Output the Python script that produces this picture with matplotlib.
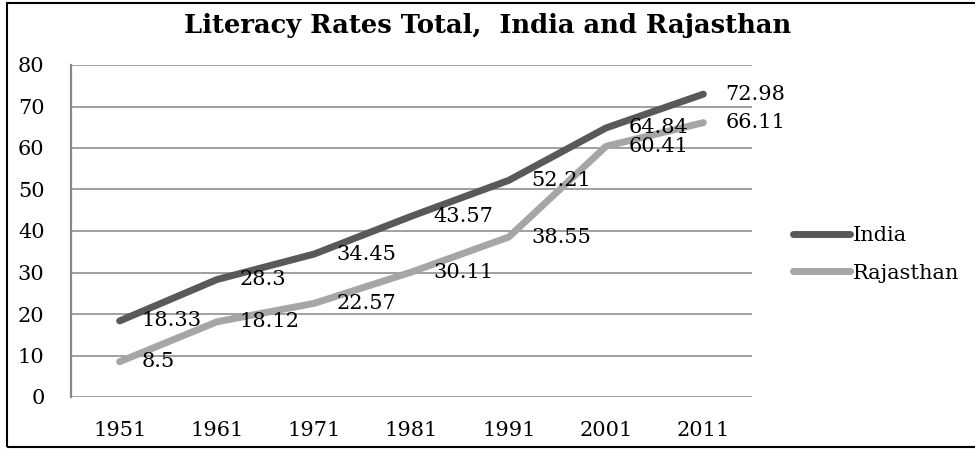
import matplotlib
matplotlib.use("Agg")
import matplotlib.pyplot as plt
from matplotlib.patches import Rectangle

# data
years = ["1951", "1961", "1971", "1981", "1991", "2001", "2011"]
india = [18.33, 28.3, 34.45, 43.57, 52.21, 64.84, 72.98]
rajasthan = [8.5, 18.12, 22.57, 30.11, 38.55, 60.41, 66.11]
y_ticks = [0, 10, 20, 30, 40, 50, 60, 70, 80]

plt.rcParams['font.family'] = ['DejaVu Serif']
fs = 15

fig = plt.figure(figsize=(9.75, 4.49), dpi=100)
ax = fig.add_axes([71/975, 1 - 397/449, 681/975, 332/449])

x = range(len(years))
ax.plot(x, india, color='#595959', lw=5, solid_capstyle='round',
        solid_joinstyle='round', label='India', zorder=3)
ax.plot(x, rajasthan, color='#a6a6a6', lw=5, solid_capstyle='round',
        solid_joinstyle='round', label='Rajasthan', zorder=3)

# data labels to the right of each point
for series in (india, rajasthan):
    for i, v in enumerate(series):
        ax.annotate(f"{v:g}", (i, v), xytext=(16, 0), textcoords='offset points',
                    ha='left', va='center', fontsize=fs, color='black', zorder=4)

ax.set_xlim(-0.5, len(years) - 0.5)
ax.set_ylim(0, 80)
ax.set_xticks(list(x))
ax.set_xticklabels(years)
ax.set_yticks(y_ticks)
ax.tick_params(axis='both', length=0, labelsize=fs)
ax.tick_params(axis='y', pad=19)
ax.tick_params(axis='x', pad=17)
ax.grid(axis='y', color='#868686', lw=1.1)
ax.set_axisbelow(True)
for side in ['top', 'right', 'bottom']:
    ax.spines[side].set_visible(False)
ax.spines['left'].set_color('#868686')
ax.spines['left'].set_linewidth(1.6)

ax.legend(loc='center left', bbox_to_anchor=(1.06, 0.43), frameon=False,
          fontsize=fs, handlelength=2.75, handletextpad=0.12, borderaxespad=0,
          borderpad=0, labelspacing=0.9)

fig.text(0.5, 1 - 25/449, "Literacy Rates Total,  India and Rajasthan",
         ha='center', va='center', fontsize=18.5, fontweight='bold',
         family='DejaVu Serif')

# outer chart border
fig.add_artist(Rectangle((7/975, 2/449), 1.1, 1 - 5/449, fill=False,
                         lw=1.5, edgecolor='black', transform=fig.transFigure))

fig.savefig('out.png', dpi=100)
